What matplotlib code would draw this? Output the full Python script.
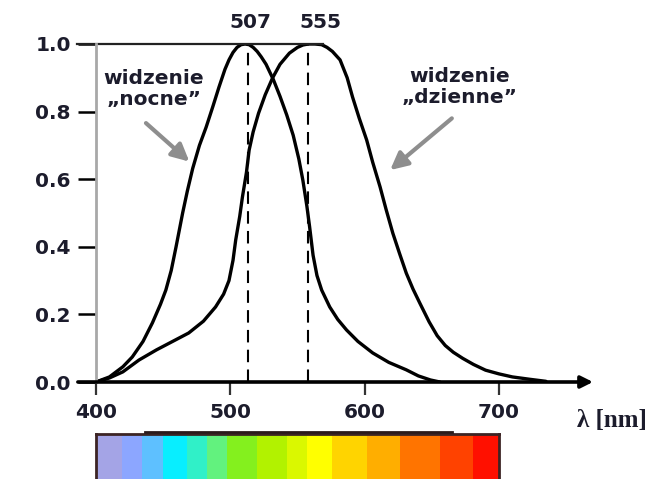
import numpy as np
import matplotlib.pyplot as plt
from matplotlib.colors import ListedColormap
from matplotlib.lines import Line2D

# krzywa widzenia "nocnego" (skotopowa)
night_nm = [400, 410, 420, 427, 435, 442, 448, 452, 456, 459.6, 464.5, 468, 472, 477, 482,
            487, 491.6, 496, 499, 502, 505, 508, 511, 514, 517, 520, 523, 526.6, 532, 537, 542,
            546.8, 551, 554, 557, 559, 561.6, 564.5, 568, 574, 580, 586.5, 595, 606, 618, 631,
            640, 649, 656]
night_val = [0.0, 0.015, 0.045, 0.074, 0.12, 0.175, 0.23, 0.272, 0.33, 0.40, 0.50, 0.565, 0.632,
             0.70, 0.754, 0.815, 0.873, 0.925, 0.953, 0.975, 0.99, 0.998, 1.0, 0.998, 0.99,
             0.978, 0.962, 0.94, 0.895, 0.845, 0.79, 0.73, 0.66, 0.597, 0.52, 0.46, 0.375,
             0.315, 0.272, 0.222, 0.185, 0.154, 0.12, 0.086, 0.058, 0.036, 0.018, 0.006, 0.0]

# krzywa widzenia "dziennego" (fotopowa)
day_nm = [400, 410, 420, 432, 445, 457, 469, 480, 489, 495, 499, 502, 504, 507, 509, 512, 514,
          517, 521, 526, 531.5, 537, 544, 550, 554, 558, 563, 568, 572, 576, 581.7, 587, 591,
          596, 601.5, 606, 611.5, 616, 621, 626, 631, 636, 641, 648, 654, 660, 666, 673, 681,
          690, 700, 710, 723, 735]
day_val = [0.0, 0.012, 0.03, 0.065, 0.095, 0.12, 0.145, 0.18, 0.222, 0.26, 0.30, 0.36, 0.42,
           0.49, 0.547, 0.62, 0.686, 0.74, 0.795, 0.85, 0.90, 0.94, 0.973, 0.99, 0.997, 1.0,
           1.0, 0.998, 0.99, 0.978, 0.953, 0.90, 0.843, 0.78, 0.716, 0.65, 0.577, 0.51, 0.44,
           0.38, 0.322, 0.275, 0.234, 0.178, 0.137, 0.108, 0.088, 0.07, 0.052, 0.035, 0.024,
           0.015, 0.008, 0.002]

peak_lines = [513, 558]
peak_labels = ["507", "555"]
peak_label_x = [514.7, 566.8]

xticks = [400, 500, 600, 700]
yticks = [0.0, 0.2, 0.4, 0.6, 0.8, 1.0]

# pasek widma
band_edges = [400, 419, 434, 450, 468, 483, 497.5, 520, 542, 557, 576, 602, 626, 656, 681, 700]
band_colors = ["#a4a4e6", "#8ca6ff", "#5ec0ff", "#08eeff", "#30f0c8", "#62f27e", "#84f01e",
               "#b2f200", "#daf800", "#ffff00", "#ffd400", "#ffae00", "#ff7400", "#ff4200",
               "#ff1000"]

txt_col = "#1c1c2c"

fig = plt.figure(figsize=(6.52, 4.79), dpi=100)
ax = fig.add_axes([96/652, 97/479, 497/652, 338/479])
ax.set_xlim(400, 770)
ax.set_ylim(0, 1.0)

ax.plot(night_nm, night_val, color="black", lw=2.4, solid_capstyle="round", solid_joinstyle="round")
ax.plot(day_nm, day_val, color="black", lw=2.4, solid_capstyle="round", solid_joinstyle="round")
ax.vlines(peak_lines, 0, 1, colors="black", lw=1.5, linestyles=(0, (6, 3.5)))

for lx, lab in zip(peak_label_x, peak_labels):
    ax.text(lx, 1.065, lab, ha="center", va="center", fontsize=14.5,
            fontweight="bold", color=txt_col, clip_on=False)

# os x ze strzalka i linia gorna
ax.annotate("", xy=(770, 0), xytext=(386.5, 0),
            arrowprops=dict(arrowstyle="-|>", lw=2.6, color="black", mutation_scale=18,
                            shrinkA=0, shrinkB=0), annotation_clip=False)
ax.plot([386, 569], [1, 1], color="#222222", lw=1.6, clip_on=False)

for s in ["top", "right", "bottom"]:
    ax.spines[s].set_visible(False)
ax.spines["left"].set_color("#a8a8a8")
ax.spines["left"].set_linewidth(2)

ax.set_xticks(xticks)
ax.set_yticks(yticks)
ax.set_yticklabels([f"{v:.1f}" for v in yticks])
ax.tick_params(axis="y", length=13, width=1.8, color="black", pad=5,
               labelsize=14.5, labelcolor=txt_col)
ax.tick_params(axis="x", length=9, width=1.6, color="#333333", pad=6,
               labelsize=14.5, labelcolor=txt_col)
for lab in ax.get_xticklabels() + ax.get_yticklabels():
    lab.set_fontweight("bold")

ax.text(784, -0.115, "λ [nm]", ha="center", va="center", fontsize=18,
        fontweight="bold", family="Liberation Serif", color=txt_col, clip_on=False)

# opisy i strzalki
ax.text(443, 0.867, "widzenie\n„nocne”", ha="center", va="center", fontsize=14.5,
        fontweight="bold", color=txt_col, linespacing=1.15)
ax.text(671, 0.873, "widzenie\n„dzienne”", ha="center", va="center", fontsize=14.5,
        fontweight="bold", color=txt_col, linespacing=1.15)
ax.annotate("", xy=(469.5, 0.652), xytext=(437.2, 0.766),
            arrowprops=dict(arrowstyle="-|>", lw=3, color="#8e8e8e", mutation_scale=26,
                            shrinkA=0, shrinkB=0))
ax.annotate("", xy=(619, 0.627), xytext=(664.9, 0.78),
            arrowprops=dict(arrowstyle="-|>", lw=3, color="#8e8e8e", mutation_scale=26,
                            shrinkA=0, shrinkB=0))

# pasek z kolorami widma
cax = fig.add_axes([96/652, -3/479, 403/652, 48/479])
cax.pcolormesh(band_edges, [0, 1], np.arange(len(band_colors)).reshape(1, -1),
               cmap=ListedColormap(band_colors), shading="flat")
cax.set_xlim(400, 700)
cax.set_ylim(0, 1)
cax.set_xticks([])
cax.set_yticks([])
for s in cax.spines.values():
    s.set_color("#3c2424")
    s.set_linewidth(2)
fig.add_artist(Line2D([145/652, 452/652], [1 - 432/479] * 2, color="#2a1a1a", lw=2))

fig.savefig("out.png", dpi=100)
